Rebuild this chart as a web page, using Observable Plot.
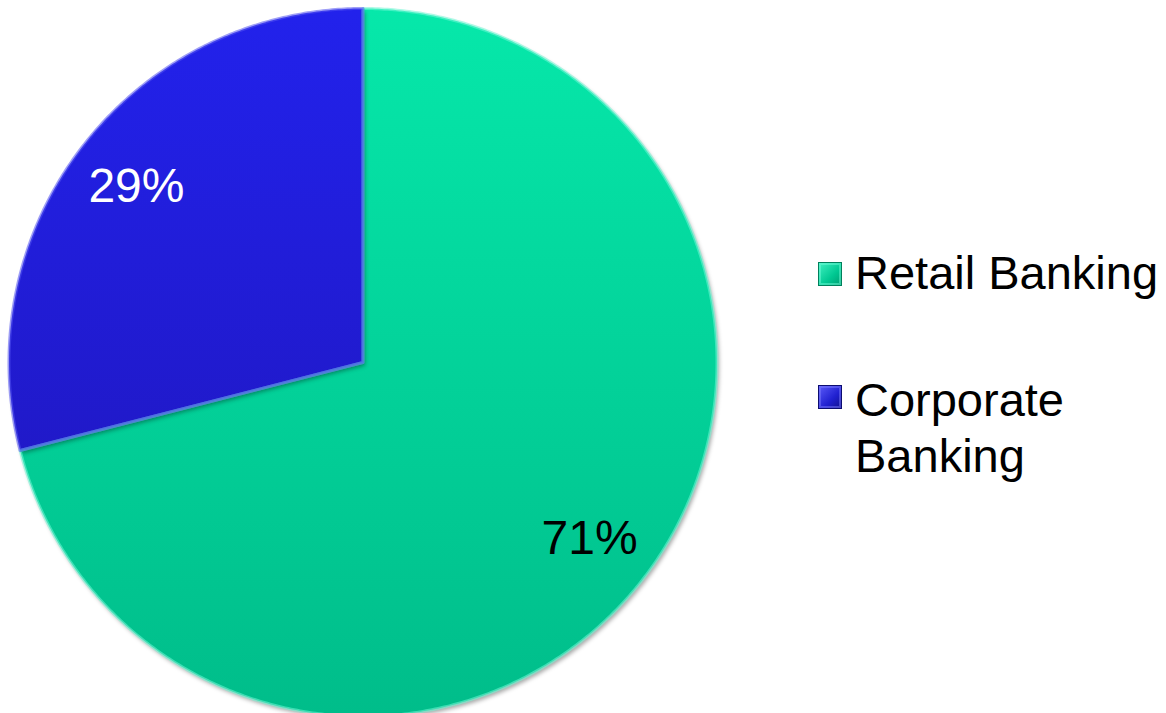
<!DOCTYPE html>
<html>
<head>
<meta charset="utf-8">
<script src="https://cdn.jsdelivr.net/npm/d3@7"></script>
<script src="https://cdn.jsdelivr.net/npm/@observablehq/plot@0.6"></script>
<style>
  html, body { margin: 0; padding: 0; background: #fff; }
  #wrap { position: relative; width: 1166px; height: 713px; overflow: hidden; font-family: "Liberation Sans", Arial, sans-serif; }
  #wrap svg { position: absolute; left: 0; top: 0; }
  .slices { filter: drop-shadow(2px 3px 2px rgba(0,0,0,0.35)); }
  .leg-item { position: absolute; left: 855px; font-size: 47px; line-height: 56px; color: #000; white-space: nowrap; }
  .swatch { position: absolute; left: 818px; width: 24px; height: 24px; box-sizing: border-box; }
  .sw0 { background: linear-gradient(135deg, #3ff0c0, #00c892 60%, #009e72); border: 1px solid #00805c; box-shadow: inset 0 0 0 2px rgba(120,255,220,0.45); }
  .sw1 { background: linear-gradient(135deg, #5a5af8, #2020d0 60%, #12128e); border: 1px solid #0c0c70; box-shadow: inset 0 0 0 2px rgba(130,130,255,0.45); }
</style>
</head>
<body>
<div id="wrap"></div>
<script>
// ---- data ----
const categories = ["Retail Banking", "Corporate Banking"];
const shares = [71, 29];
const valueLabels = ["71%", "29%"];
const legendLines = [["Retail Banking"], ["Corporate", "Banking"]];

// ---- derived pie geometry (unit circle, clockwise from 12 o'clock) ----
const total = d3.sum(shares);
let acc = 0;
const slices = shares.map((v, i) => {
  const s = acc / total; acc += v; const e = acc / total;
  return {cat: categories[i], i, s, e, mid: (s + e) / 2, label: valueLabels[i]};
});
const pts = [];
for (const sl of slices) {
  pts.push({cat: sl.cat, x: 0, y: 0});
  const n = Math.ceil((sl.e - sl.s) * 720);
  for (let k = 0; k <= n; k++) {
    const t = sl.s + (sl.e - sl.s) * k / n;
    const a = 2 * Math.PI * t;
    pts.push({cat: sl.cat, x: Math.sin(a), y: Math.cos(a)});
  }
}
const labelPts = slices.map(sl => {
  const a = 2 * Math.PI * sl.mid;
  return {label: sl.label, x: 0.81 * Math.sin(a), y: 0.81 * Math.cos(a), i: sl.i};
});

// ---- layout (pixel frame) ----
const W = 1166, H = 713, cx = 362.5, cy = 362, R = 354;

const fills = ["url(#gRetail)", "url(#gCorp)"];
const rims = ["#6ff7d6", "#5252f2"];

const plot = Plot.plot({
  width: W, height: H,
  margin: 0,
  x: {domain: [-cx / R, (W - cx) / R], axis: null},
  y: {domain: [-(H - cy) / R, cy / R], axis: null},
  style: {background: "transparent", overflow: "visible"},
  marks: [
    ...slices.map(sl => Plot.line(pts.filter(p => p.cat === sl.cat), {
      x: "x", y: "y", fill: fills[sl.i], stroke: "none", curve: "linear-closed", className: "slices"
    })),
    ...slices.map(sl => Plot.line(pts.filter(p => p.cat === sl.cat), {
      x: "x", y: "y", fill: "none", stroke: rims[sl.i], strokeWidth: 3, strokeOpacity: 0.55, curve: "linear-closed"
    })),
    Plot.text(labelPts, {
      x: "x", y: "y", text: "label",
      fill: d => d.i === 0 ? "black" : "white",
      fontSize: 48, fontFamily: "Liberation Sans, Arial, sans-serif"
    })
  ]
});

// gradients
const defs = d3.select(plot).insert("defs", ":first-child");
function grad(id, c0, c1) {
  const g = defs.append("linearGradient").attr("id", id)
    .attr("gradientUnits", "userSpaceOnUse")
    .attr("x1", 0).attr("y1", cy - R).attr("x2", 0).attr("y2", cy + R);
  g.append("stop").attr("offset", "0%").attr("stop-color", c0);
  g.append("stop").attr("offset", "100%").attr("stop-color", c1);
}
grad("gRetail", "#06e8aa", "#00bd8a");
grad("gCorp", "#2222ec", "#1f14b4");

const wrap = document.getElementById("wrap");
wrap.appendChild(plot);

// legend
const legendTops = [244.7, 371.7];
const swatchTops = [262, 385];
legendLines.forEach((lines, i) => {
  const sw = document.createElement("div");
  sw.className = "swatch sw" + i;
  sw.style.top = swatchTops[i] + "px";
  wrap.appendChild(sw);
  const t = document.createElement("div");
  t.className = "leg-item";
  t.style.top = legendTops[i] + "px";
  t.innerHTML = lines.join("<br>");
  wrap.appendChild(t);
});
</script>
</body>
</html>
